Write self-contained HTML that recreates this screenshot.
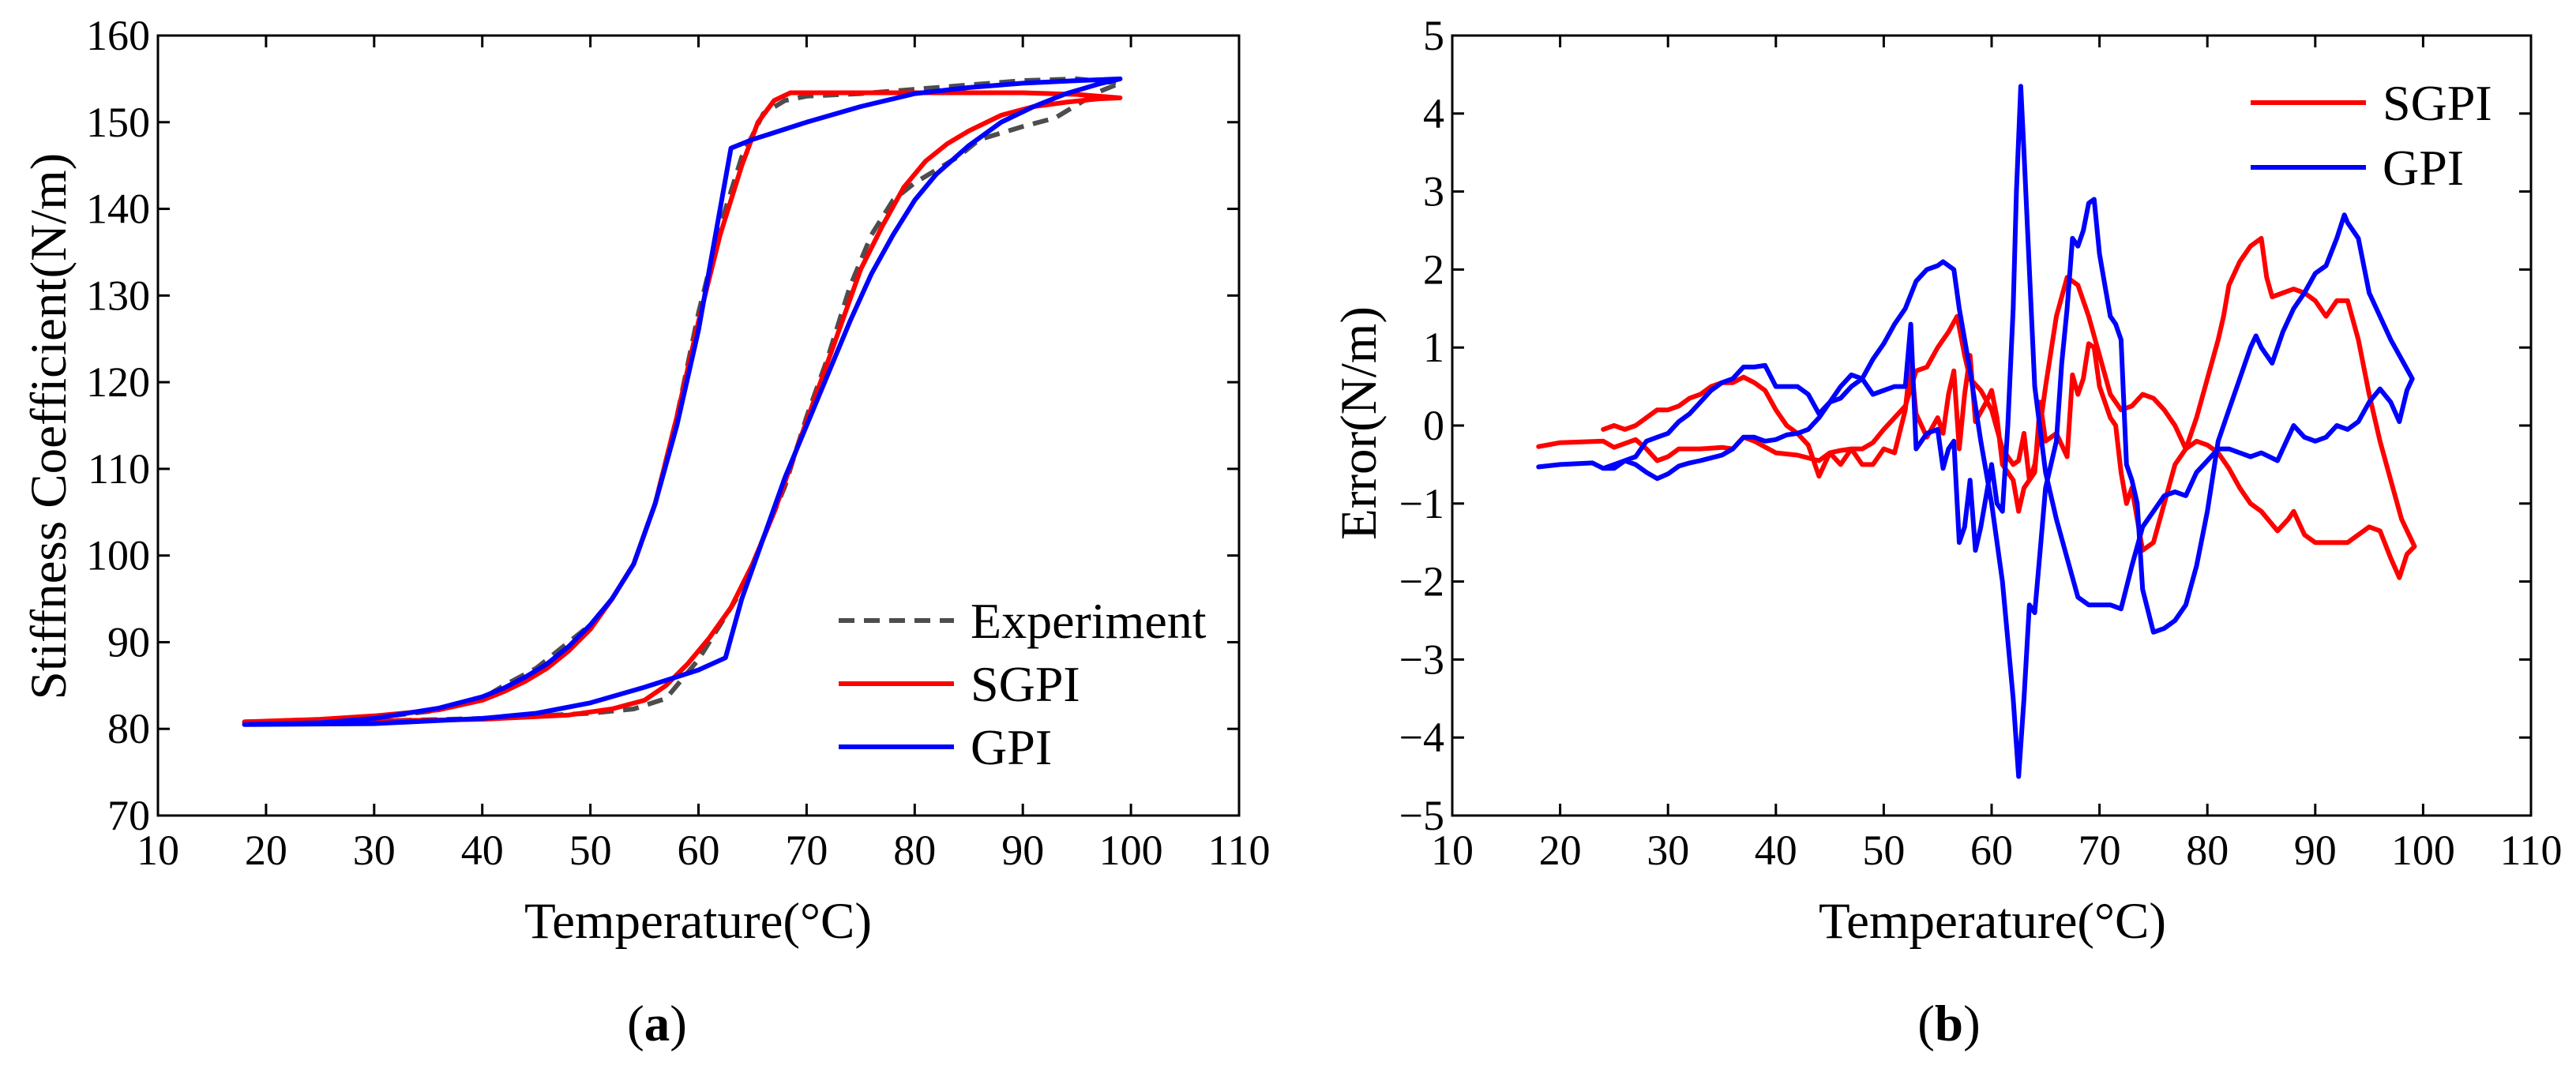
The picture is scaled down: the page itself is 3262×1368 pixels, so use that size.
<!DOCTYPE html>
<html><head><meta charset="utf-8">
<style>
html,body{margin:0;padding:0;background:#fff;}
svg{display:block;font-family:"Liberation Serif",serif;}
</style></head>
<body>
<svg id="fig" width="3262" height="1368" viewBox="0 0 3262 1368" xmlns="http://www.w3.org/2000/svg">
<rect width="3262" height="1368" fill="#fff"/>
</svg>
<script>
// ---------- Chart (a) data ----------
const aXTicks=[10,20,30,40,50,60,70,80,90,100,110];
const aYTicks=[70,80,90,100,110,120,130,140,150,160];
const expX=[18,30,40,50,54,57,58,60,62,64,66,68,70,72,74,76,78,80,84,86,90,93,95,97,99,95,90,85,80,75,70,68,66,64,62,60,58,56,54,52,50,48,45,42,40,35,30,25,18];
const expY=[80.8,80.9,81.2,81.8,82.3,83.5,85,88,92,96,102,108,116,123,131,137,141,143,146,148,149.5,150.5,152,153.5,154.5,155,154.8,154.3,153.8,153.3,153,152.5,151,146,138,128,116,106,99,95,92,90,87,85,83.5,82,81.3,81,80.8];
const sgpiAX=[18,30,40,48,52,55,57,59,61,63,65,67,69,71,73,75,77,79,81,83,85,88,91,94,97,99,95,90,80,70,68.5,67,65.5,64,62,60,58,56,54,52,50,48,46,44,42,40,36,30,25,18];
const sgpiAY=[80.8,80.9,81.1,81.6,82.3,83.3,85,87.5,90.5,94,99,105,112,119,126,133,138,142.5,145.5,147.5,149,150.8,151.8,152.3,152.7,152.8,153.2,153.4,153.4,153.4,153.4,152.5,150,145,137,127,116,106,99,95,91.5,89,87,85.5,84.3,83.3,82.2,81.5,81.1,80.8];
const gpiAX=[18,30,40,45,50,55,58,60,62.5,64,66,68,70,72,74,76,78,80,82,85,88,91,94,97,99,95,90,85,80,75,70,67,65,63,62,61,60,58,56,54,52,50,48,46,44,42,40,36,30,25,18];
const gpiAY=[80.5,80.6,81.2,81.8,83,84.8,86,86.8,88.2,95,102,109,115,121,127,132.5,137,141,144,147.3,150,151.8,153.3,154.4,155,154.8,154.5,154,153.3,151.8,150,148.8,148,147,140,133,126,115,106,99,95,92,89.5,87.5,86,84.7,83.7,82.4,81.2,80.7,80.5];
// ---------- Chart (b) data ----------
const bXTicks=[10,20,30,40,50,60,70,80,90,100,110];
const bYTicks=[-5,-4,-3,-2,-1,0,1,2,3,4,5];
const sgpiBX=[18,20,24,25,27,28,29,30,31,33,35,36,37,38,40,42,44,45,46,47,48,49,50,51,52,53,54,55,56,56.8,57.5,58,59,60,61,62,62.5,63,63.5,64,65,66,67,68,69,70,71,72,73,74,75,76,77,78,79,80,81,82,83,84,85,86.5,87.5,88,89,90,91,92,93,94,95,96,97,97.8,98.5,99.2,
98,97,96,95,94,93,92,91,90,89,88,87,86,85.5,85,84,83,82,81.5,81,80,79,78,77,76,75,74,73,72.5,72,71.5,71,70,69.5,69,68.5,68,67.5,67,66,65,64.5,64,63,62.5,62,61,60.5,60,59.5,58.5,58,57.5,57,56.5,56,55.5,55,54,53,52.5,52,51,50,49,48,47,46,45,44,43,42,41,40,39,38,37,36,35,34,33,32,31,30,29,28,27,26,25,24];
const sgpiBY=[-0.27,-0.22,-0.2,-0.28,-0.18,-0.3,-0.45,-0.4,-0.3,-0.3,-0.28,-0.3,-0.15,-0.2,-0.35,-0.38,-0.45,-0.35,-0.32,-0.3,-0.3,-0.22,-0.05,0.1,0.25,0.7,0.75,1.0,1.2,1.4,0.9,0.6,0.45,0.2,-0.3,-0.5,-0.45,-0.1,-0.7,-0.5,0.5,1.4,1.9,1.8,1.4,0.9,0.4,0.2,0.25,0.4,0.35,0.2,0.0,-0.3,-0.2,-0.25,-0.35,-0.55,-0.8,-1.0,-1.1,-1.35,-1.2,-1.1,-1.4,-1.5,-1.5,-1.5,-1.5,-1.4,-1.3,-1.35,-1.7,-1.95,-1.65,-1.55,
-1.2,-0.7,-0.2,0.4,1.1,1.6,1.6,1.4,1.6,1.7,1.75,1.7,1.65,1.9,2.4,2.3,2.1,1.8,1.4,1.1,0.6,0.1,-0.3,-0.5,-1.0,-1.5,-1.6,-0.8,-1.0,-0.6,0.0,0.1,0.5,1.0,1.05,0.6,0.4,0.65,-0.4,-0.1,-0.2,0.3,-0.6,-0.8,-1.1,-0.7,-0.5,0.1,0.45,0.3,0.05,0.9,0.4,-0.3,0.7,0.4,-0.1,0.1,-0.15,0.15,0.85,0.2,-0.35,-0.3,-0.5,-0.5,-0.3,-0.5,-0.35,-0.65,-0.25,-0.1,0.0,0.2,0.45,0.55,0.62,0.55,0.55,0.5,0.4,0.35,0.25,0.2,0.2,0.1,0.0,-0.05,0.0,-0.05];
const gpiBX=[18,20,23,24,25,26,27,28,29,30,31,32,33,35,36,37,38,39,40,41,42,43,44,45,46,47,48,49,50,51,52,53,54,55,55.5,56,56.5,57,58,59,60,61,62,62.5,63,63.5,64,64.5,65,66,66.5,67,67.5,68,68.5,69,69.5,70,70.5,71,71.5,72,72.5,73,73.5,74,75,76,77,78,79,80,81,82,83,84,84.5,85,86,87,88,89,90,91,92,92.7,93,94,95,96,97,98,99,
98.5,97.8,97,96,95,94,93,92,91,90,89,88,87,86.5,85,84,83,82,81,80,79,78,77,76,75,74,73,72,71,70,69,68,67,66,65,64,63.5,63,62.7,62.3,62,61.5,61,60.5,60,59,58.5,58,57.5,57,56.5,56,55.5,55,54,53,52.5,52,51,50,49,48,47,46,45,44,43,42,41,40,39,38,37,36,35,34,33,32,31,30,29,28,27,26,25,24];
const gpiBY=[-0.53,-0.5,-0.48,-0.55,-0.5,-0.45,-0.5,-0.6,-0.68,-0.62,-0.52,-0.48,-0.45,-0.38,-0.3,-0.15,-0.15,-0.2,-0.18,-0.12,-0.1,-0.05,0.1,0.3,0.35,0.5,0.6,0.85,1.05,1.3,1.5,1.85,2.0,2.05,2.1,2.05,2.0,1.5,0.7,-0.2,-1.0,-2.0,-3.5,-4.5,-3.5,-2.3,-2.4,-1.6,-0.8,-0.2,0.8,1.5,2.4,2.3,2.5,2.85,2.9,2.2,1.8,1.4,1.3,1.1,-0.5,-0.7,-1.0,-2.1,-2.65,-2.6,-2.5,-2.3,-1.8,-1.1,-0.2,0.2,0.6,1.0,1.15,1.0,0.8,1.2,1.5,1.7,1.95,2.05,2.4,2.7,2.6,2.4,1.7,1.4,1.1,0.85,0.6,
0.45,0.05,0.3,0.47,0.3,0.05,-0.05,0.0,-0.15,-0.2,-0.15,0.0,-0.3,-0.45,-0.35,-0.4,-0.35,-0.3,-0.3,-0.45,-0.6,-0.9,-0.85,-0.9,-1.1,-1.3,-1.8,-2.35,-2.3,-2.3,-2.3,-2.2,-1.7,-1.2,-0.6,0.5,2.0,3.5,4.35,3.0,1.5,0.0,-1.1,-1.0,-0.5,-1.3,-1.6,-0.7,-1.3,-1.5,-0.2,-0.3,-0.55,-0.05,-0.1,-0.3,1.3,0.5,0.5,0.45,0.4,0.6,0.65,0.5,0.3,0.15,0.4,0.5,0.5,0.5,0.77,0.75,0.75,0.6,0.55,0.45,0.3,0.15,0.05,-0.1,-0.15,-0.2,-0.4,-0.45,-0.55,-0.55];

const NS="http://www.w3.org/2000/svg";
const svg=document.getElementById('fig');
function mk(tag,attrs,parent){const e=document.createElementNS(NS,tag);for(const k in attrs)e.setAttribute(k,attrs[k]);(parent||svg).appendChild(e);return e;}

function axis(L,R,T,B,x0,x1,y0,y1){
  return {sx:v=>L+(v-x0)/(x1-x0)*(R-L), sy:v=>B-(v-y0)/(y1-y0)*(B-T), L,R,T,B};
}
function frame(g,ax,xt,yt,prefix){
  const r=mk('rect',{x:ax.L,y:ax.T,width:ax.R-ax.L,height:ax.B-ax.T,fill:'none',stroke:'#000','stroke-width':3},g);
  
  
  xt.forEach(v=>{
    const x=ax.sx(v);
    mk('line',{x1:x,y1:ax.B,x2:x,y2:ax.B-15,stroke:'#000','stroke-width':3},g);
    mk('line',{x1:x,y1:ax.T,x2:x,y2:ax.T+15,stroke:'#000','stroke-width':3},g);
    const t=mk('text',{x:x,y:ax.B+62,'text-anchor':'middle','font-size':54},g);
    t.textContent=String(v);
    
    
  });
  yt.forEach(v=>{
    const y=ax.sy(v);
    mk('line',{x1:ax.L,y1:y,x2:ax.L+15,y2:y,stroke:'#000','stroke-width':3},g);
    mk('line',{x1:ax.R,y1:y,x2:ax.R-15,y2:y,stroke:'#000','stroke-width':3},g);
    const t=mk('text',{x:ax.L-10,y:y+18,'text-anchor':'end','font-size':54},g);
    t.textContent=(v<0?'\u2212'+(-v):String(v));
    
    
  });
}
function series(g,ax,xs,ys,color,name,dash){
  const d=xs.map((x,i)=>(i?'L':'M')+ax.sx(x).toFixed(1)+','+ax.sy(ys[i]).toFixed(1)).join(' ');
  const p=mk('path',{d:d,fill:'none',stroke:color,'stroke-width':6,'stroke-linejoin':'round','stroke-linecap':'round'},g);
  if(dash){p.setAttribute('stroke-dasharray',dash);p.setAttribute('stroke-linecap','butt');}
  
  
}
function legend(g,x1,x2,tx,y,color,label,name,dash){
  const l=mk('line',{x1:x1,y1:y,x2:x2,y2:y,stroke:color,'stroke-width':6},g);
  if(dash)l.setAttribute('stroke-dasharray',dash);
  
  
  const t=mk('text',{x:tx,y:y+22,'font-size':64},g);
  t.textContent=label;
  
  
}
function text(x,y,s,size,name,extra){
  const t=mk('text',Object.assign({x:x,y:y,'text-anchor':'middle','font-size':size},extra||{}));
  t.textContent=s;
  
  
  return t;
}

// Chart a
const ga=mk('g',{});


const axA=axis(200,1569,45,1033,10,110,70,160);
series(ga,axA,expX,expY,'#4d4d4d','experiment-line','20 12');
series(ga,axA,sgpiAX,sgpiAY,'#ff0000','sgpi-line-a');
series(ga,axA,gpiAX,gpiAY,'#0000ff','gpi-line-a');
frame(ga,axA,aXTicks,aYTicks,'a');
legend(ga,1062,1208,1229,786,'#4d4d4d','Experiment','legend-experiment','20 12');
legend(ga,1062,1208,1229,866,'#ff0000','SGPI','legend-sgpi-a');
legend(ga,1062,1208,1229,946,'#0000ff','GPI','legend-gpi-a');
text(884,1188,'Temperature(°C)',65,'a-x-axis-title');
text(0,0,'Stiffness Coefficient(N/m)',65,'a-y-axis-title',{transform:'translate(83,540) rotate(-90)'});
const ca=text(832,1318,'',65,'caption-a');
ca.innerHTML='(<tspan font-weight="bold">a</tspan>)';

// Chart b
const gb=mk('g',{});


const axB=axis(1839,3205,45,1033,10,110,-5,5);
series(gb,axB,sgpiBX,sgpiBY,'#ff0000','sgpi-error-line');
series(gb,axB,gpiBX,gpiBY,'#0000ff','gpi-error-line');
frame(gb,axB,bXTicks,bYTicks,'b');
legend(gb,2850,2996,3017,130,'#ff0000','SGPI','legend-sgpi-b');
legend(gb,2850,2996,3017,212,'#0000ff','GPI','legend-gpi-b');
text(2523,1188,'Temperature(°C)',65,'b-x-axis-title');
text(0,0,'Error(N/m)',65,'b-y-axis-title',{transform:'translate(1742,536) rotate(-90)'});
const cb=text(2468,1318,'',65,'caption-b');
cb.innerHTML='(<tspan font-weight="bold">b</tspan>)';
</script>
</body></html>
